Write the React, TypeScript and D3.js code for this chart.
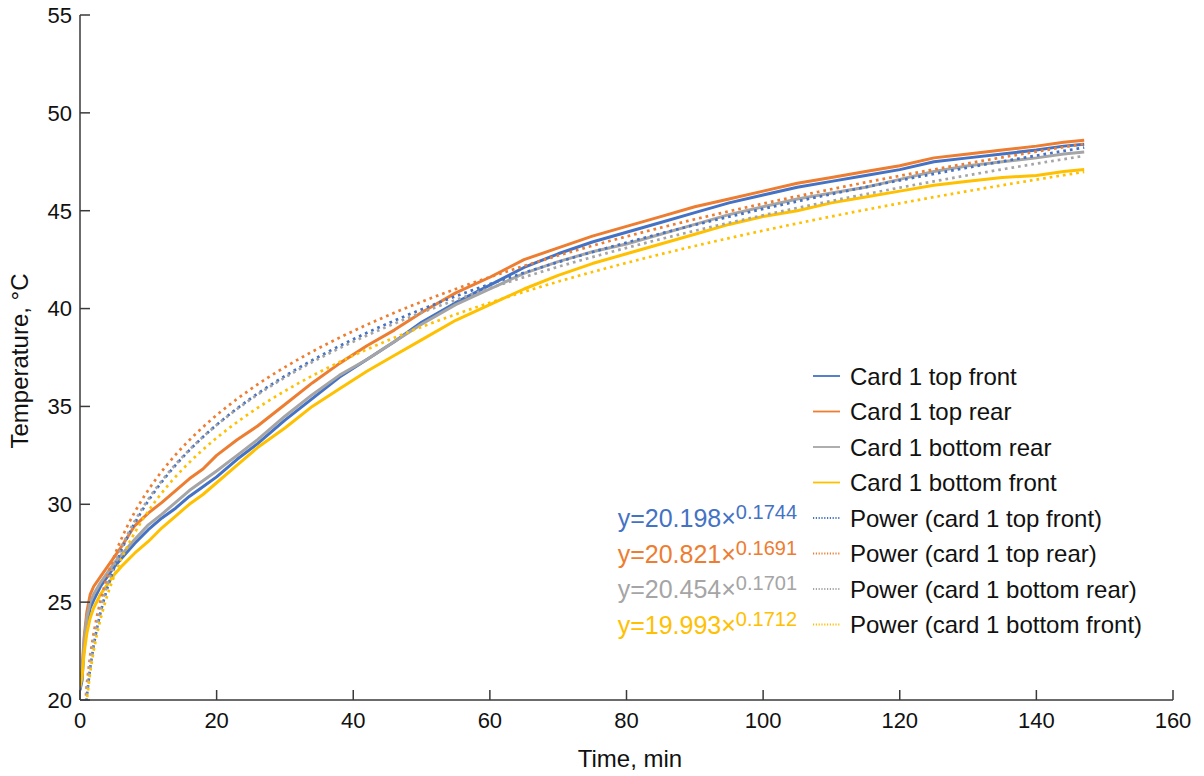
import React from 'react';
import * as d3 from 'd3';

const times = [0, 0.3, 0.6, 1, 1.5, 2, 3, 4, 5, 6, 8, 10, 12, 14, 16, 18, 20, 23, 26, 30, 34, 38, 42, 46, 50, 55, 60, 65, 70, 75, 80, 85, 90, 95, 100, 105, 110, 115, 120, 125, 130, 135, 140, 144, 147];
const topFront = [20.5, 21.0, 22.7, 23.9, 24.7, 25.1, 25.8, 26.3, 26.8, 27.2, 28.0, 28.7, 29.3, 29.8, 30.4, 30.9, 31.4, 32.3, 33.1, 34.3, 35.4, 36.5, 37.4, 38.3, 39.3, 40.3, 41.2, 42.1, 42.8, 43.4, 43.9, 44.4, 44.9, 45.4, 45.8, 46.2, 46.5, 46.8, 47.1, 47.5, 47.7, 47.9, 48.1, 48.3, 48.4];
const topRear = [20.6, 21.5, 23.2, 24.5, 25.4, 25.8, 26.3, 26.8, 27.3, 27.8, 28.9, 29.55, 30.1, 30.7, 31.3, 31.8, 32.5, 33.3, 34.0, 35.1, 36.2, 37.2, 38.1, 38.9, 39.8, 40.8, 41.6, 42.5, 43.1, 43.7, 44.2, 44.7, 45.2, 45.6, 46.0, 46.4, 46.7, 47.0, 47.3, 47.7, 47.9, 48.1, 48.3, 48.5, 48.6];
const bottomRear = [20.6, 21.3, 23.0, 24.2, 25.0, 25.4, 26.0, 26.5, 27.0, 27.4, 28.2, 28.95, 29.5, 30.1, 30.7, 31.2, 31.7, 32.5, 33.3, 34.5, 35.6, 36.6, 37.4, 38.3, 39.2, 40.2, 41.0, 41.8, 42.4, 42.9, 43.3, 43.8, 44.3, 44.8, 45.2, 45.6, 45.9, 46.2, 46.6, 47.0, 47.3, 47.5, 47.7, 47.9, 48.0];
const bottomFront = [20.7, 21.2, 22.4, 23.4, 24.2, 24.7, 25.4, 25.9, 26.4, 26.8, 27.5, 28.1, 28.8, 29.4, 30.0, 30.5, 31.1, 32.0, 32.9, 33.9, 35.0, 35.9, 36.8, 37.6, 38.4, 39.4, 40.2, 41.0, 41.7, 42.3, 42.8, 43.3, 43.8, 44.3, 44.7, 45.0, 45.4, 45.7, 46.0, 46.3, 46.5, 46.7, 46.8, 47.0, 47.1];

const seriesNames = ['Card 1 top front', 'Card 1 top rear', 'Card 1 bottom rear', 'Card 1 bottom front'];
const fitNames = ['Power (card 1 top front)', 'Power (card 1 top rear)', 'Power (card 1 bottom rear)', 'Power (card 1 bottom front)'];
const fitA = [20.198, 20.821, 20.454, 19.993];
const fitB = [0.1744, 0.1691, 0.1701, 0.1712];
const fitALabels = ['20.198', '20.821', '20.454', '19.993'];
const fitBLabels = ['0.1744', '0.1691', '0.1701', '0.1712'];
const colors = ['#4472C4', '#ED7D31', '#A5A5A5', '#FFC000'];
const xTicks = [0, 20, 40, 60, 80, 100, 120, 140, 160];
const yTicks = [20, 25, 30, 35, 40, 45, 50, 55];

const W = 1204, H = 776;
const FONT = 'Liberation Sans, Arial, sans-serif';

export default function App() {
  const x = d3.scaleLinear().domain([0, 160]).range([80, 1173]);
  const y = d3.scaleLinear().domain([20, 55]).range([700, 15]);
  const allSeries = [topFront, topRear, bottomRear, bottomFront];
  const line = d3.line<[number, number]>().x(d => x(d[0])).y(d => y(d[1]));
  const fitT = d3.range(0.5, 147.01, 0.5);
  const legendY = (i: number) => 376 + i * 35.5;
  return (
    <svg width={W} height={H} style={{ position: 'absolute', left: 0, top: 0, background: '#fff' }} fontFamily={FONT}>
      <defs>
        <clipPath id="plot"><rect x={80} y={15} width={1093} height={685} /></clipPath>
      </defs>
      <g clipPath="url(#plot)">
        {allSeries.map((s, i) => (
          <path key={'s' + i} d={line(times.map((t, j) => [t, s[j]]) as [number, number][]) || ''}
            fill="none" stroke={colors[i]} strokeWidth={3} strokeLinejoin="round" />
        ))}
        {fitA.map((a, i) => (
          <path key={'f' + i} d={line(fitT.map(t => [t, a * Math.pow(t, fitB[i])]) as [number, number][]) || ''}
            fill="none" stroke={colors[i]} strokeWidth={2.7} strokeDasharray="2.7 4" />
        ))}
      </g>
      <g stroke="#3a3a3a" strokeWidth={1.5}>
        <line x1={80} y1={15} x2={80} y2={700} />
        <line x1={80} y1={700} x2={1173} y2={700} />
        {yTicks.map(t => <line key={'yt' + t} x1={80} x2={90} y1={y(t)} y2={y(t)} />)}
        {xTicks.map(t => <line key={'xt' + t} x1={x(t)} x2={x(t)} y1={690} y2={700} />)}
      </g>
      <g fontSize={22} fill="#111">
        {yTicks.map(t => <text key={'yl' + t} x={72} y={y(t)} dy="0.36em" textAnchor="end">{t}</text>)}
        {xTicks.map(t => <text key={'xl' + t} x={x(t)} y={728} textAnchor="middle">{t}</text>)}
      </g>
      <text x={630} y={767} fontSize={24} textAnchor="middle" fill="#111">Time, min</text>
      <text transform="translate(28,361) rotate(-90)" fontSize={24} textAnchor="middle" fill="#111">Temperature, °C</text>
      <g fontSize={24} fill="#111">
        {seriesNames.map((n, i) => (
          <g key={'lg' + i}>
            <line x1={813} x2={840} y1={legendY(i)} y2={legendY(i)} stroke={colors[i]} strokeWidth={1.8} />
            <text x={850} y={legendY(i)} dy="0.36em">{n}</text>
          </g>
        ))}
        {fitNames.map((n, i) => (
          <g key={'lf' + i}>
            <line x1={813} x2={840} y1={legendY(i + 4)} y2={legendY(i + 4)} stroke={colors[i]} strokeWidth={1.8} strokeDasharray="1.2 1.6" />
            <text x={850} y={legendY(i + 4)} dy="0.36em">{n}</text>
            <text x={797} y={legendY(i + 4)} dy="0.36em" textAnchor="end" fill={colors[i]} fontSize={25}>
              <tspan>{'y=' + fitALabels[i] + '×'}</tspan>
              <tspan fontSize={20} dy="-8">{fitBLabels[i]}</tspan>
            </text>
          </g>
        ))}
      </g>
    </svg>
  );
}
